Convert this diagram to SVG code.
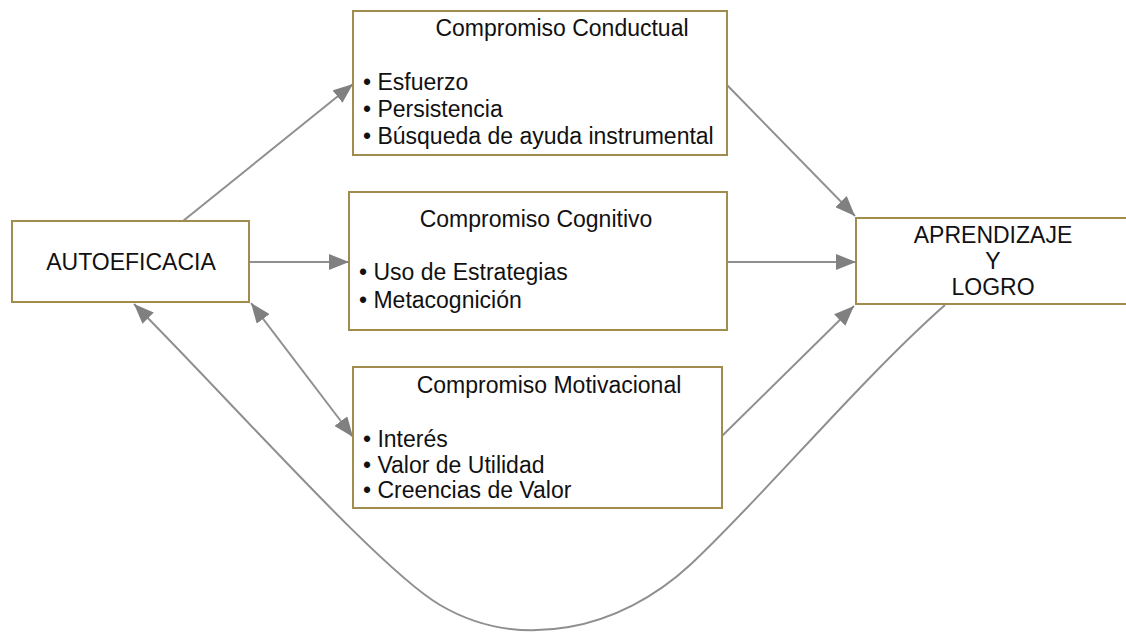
<svg xmlns="http://www.w3.org/2000/svg" width="1126" height="633" viewBox="0 0 1126 633">
<defs>
<style>
.box{fill:#fff;stroke:#a08d4e;stroke-width:2}
.t{font-family:"Liberation Sans",Arial,sans-serif;font-size:23px;fill:#111}
.c{text-anchor:middle}
.e{fill:none;stroke:#8f8f8f;stroke-width:2}
</style>
<marker id="ah" viewBox="0 0 20 16" refX="20" refY="8" markerWidth="20" markerHeight="16" markerUnits="userSpaceOnUse" orient="auto-start-reverse">
<path d="M0,0 L20,8 L0,16 z" fill="#808080"/>
</marker>
</defs>
<rect width="1126" height="633" fill="#fff"/>
<g id="connectors">
<line class="e" x1="183" y1="221" x2="353" y2="84" marker-end="url(#ah)"/>
<line class="e" x1="249" y1="262" x2="349" y2="262" marker-end="url(#ah)"/>
<line class="e" x1="251" y1="303" x2="353" y2="437" marker-start="url(#ah)" marker-end="url(#ah)"/>
<line class="e" x1="727" y1="85" x2="855" y2="216" marker-end="url(#ah)"/>
<line class="e" x1="727" y1="262" x2="856" y2="262" marker-end="url(#ah)"/>
<line class="e" x1="722" y1="436" x2="854" y2="306" marker-end="url(#ah)"/>
<path class="e" d="M945,305 C860,380 760,500 690,565 C620,630 520,652 440,605 C380,570 230,400 134,304" marker-end="url(#ah)"/>
</g>
<g id="autoeficacia">
<rect class="box" x="12" y="221" width="237" height="81"/>
<text class="t c" x="131" y="270">AUTOEFICACIA</text>
</g>
<g id="conductual">
<rect class="box" x="353" y="11" width="374" height="144"/>
<text class="t c" x="562" y="36">Compromiso Conductual</text>
<text class="t" x="363" y="90">• Esfuerzo</text>
<text class="t" x="363" y="117">• Persistencia</text>
<text class="t" x="363" y="144">• Búsqueda de ayuda instrumental</text>
</g>
<g id="cognitivo">
<rect class="box" x="349" y="192" width="378" height="138"/>
<text class="t c" x="536" y="227">Compromiso Cognitivo</text>
<text class="t" x="359" y="280">• Uso de Estrategias</text>
<text class="t" x="359" y="308">• Metacognición</text>
</g>
<g id="motivacional">
<rect class="box" x="353" y="367" width="369" height="141"/>
<text class="t c" x="549" y="393">Compromiso Motivacional</text>
<text class="t" x="363" y="447">• Interés</text>
<text class="t" x="363" y="473">• Valor de Utilidad</text>
<text class="t" x="363" y="498">• Creencias de Valor</text>
</g>
<g id="aprendizaje">
<rect class="box" x="856" y="218" width="276" height="86"/>
<text class="t c" x="993" y="243">APRENDIZAJE</text>
<text class="t c" x="993" y="269">Y</text>
<text class="t c" x="993" y="295">LOGRO</text>
</g>
</svg>
